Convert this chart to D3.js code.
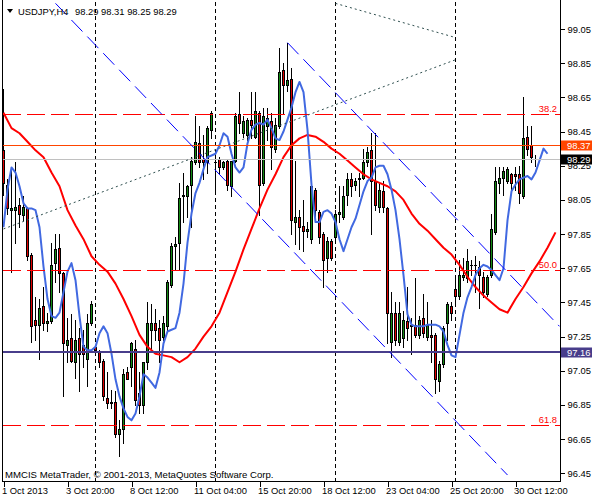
<!DOCTYPE html>
<html><head><meta charset="utf-8">
<script src="https://cdn.jsdelivr.net/npm/d3@7"></script>
<style>
html,body{margin:0;padding:0;background:#fff;}
svg{display:block;}
text{font-family:"Liberation Sans",Arial,sans-serif;}
</style>
</head><body>
<svg id="chart" width="600" height="500"></svg>
<script>
// ---------------- DATA ----------------
const symbolTitle = "USDJPY,H4";
const titleQuote = "98.29 98.31 98.25 98.29";
const copyright = "MMCIS MetaTrader, \u00A9 2001-2013, MetaQuotes Software Corp.";

const barOpen = [98.34,98.14,97.99,97.99,98.02,97.96,98.00,97.73,97.35,97.32,97.43,97.33,97.34,97.68,97.77,97.62,97.20,97.24,97.10,97.24,
97.20,97.12,97.33,97.19,97.16,97.11,96.89,96.86,96.87,96.68,96.71,97.04,97.07,97.18,96.92,96.85,97.10,97.29,97.33,97.30,
97.25,97.31,97.55,97.78,97.80,98.07,98.07,98.14,98.27,98.38,98.29,98.27,98.46,98.27,98.29,98.24,98.28,98.13,98.28,98.55,
98.44,98.43,98.52,98.42,98.56,98.15,98.48,98.51,98.35,98.48,98.81,98.72,98.76,97.92,97.95,97.90,97.87,97.82,98.11,97.98,
97.85,97.71,97.81,97.83,97.97,97.95,98.08,98.17,98.14,98.17,98.18,98.27,98.34,98.16,98.01,98.10,98.00,97.22,97.39,97.22,
97.24,97.34,97.32,97.32,97.26,97.36,97.25,97.26,97.26,96.99,97.09,97.33,97.43,97.53,97.49,97.60,97.59,97.67,97.67,97.66,
97.60,97.50,97.61,97.86,98.15,98.18,98.16,98.20,98.20,98.20,98.07,98.42,98.37,98.29];
const barHigh = [98.70,98.17,98.24,98.27,98.06,98.07,98.01,97.74,97.48,97.47,97.54,97.39,97.80,97.85,97.85,97.63,97.36,97.38,97.35,97.30,
97.29,97.38,97.46,97.20,97.17,97.12,97.04,96.94,96.93,96.76,97.06,97.07,97.22,97.23,97.04,97.10,97.45,97.44,97.41,97.35,
97.37,97.58,97.80,97.83,98.15,98.21,98.14,98.30,98.54,98.48,98.43,98.48,98.57,98.32,98.30,98.28,98.29,98.28,98.56,98.68,
98.54,98.53,98.68,98.68,98.57,98.59,98.59,98.56,98.53,98.94,98.85,98.97,98.82,98.28,97.99,98.05,97.92,98.13,98.12,97.99,
97.86,97.83,97.82,97.99,98.13,98.13,98.21,98.21,98.18,98.21,98.35,98.36,98.44,98.44,98.15,98.16,98.01,97.51,97.45,97.45,
97.40,97.54,97.36,97.59,97.37,97.50,97.45,97.35,97.27,97.11,97.31,97.45,97.45,97.60,97.70,97.71,97.76,97.70,97.72,97.69,
97.63,97.61,97.97,98.24,98.24,98.24,98.24,98.21,98.24,98.25,98.65,98.48,98.48,98.31];
const barLow = [98.08,97.97,97.63,97.80,97.89,97.93,97.70,97.22,97.23,97.12,97.29,97.28,97.33,97.57,97.51,96.90,97.10,97.10,97.01,96.93,
97.07,96.96,97.32,97.15,97.07,96.88,96.83,96.83,96.66,96.55,96.63,97.00,96.96,96.85,96.80,96.80,97.06,97.18,97.23,97.10,
97.23,97.29,97.54,97.64,97.64,97.92,97.95,97.89,98.26,98.24,98.17,98.21,98.41,98.11,98.21,98.23,98.11,98.07,98.27,98.44,
98.42,98.40,98.41,98.41,97.96,98.14,98.40,98.23,98.33,98.47,98.56,98.69,97.85,97.79,97.76,97.75,97.83,97.80,97.92,97.80,
97.54,97.63,97.70,97.80,97.92,97.94,98.02,98.07,98.11,98.07,98.17,98.25,97.85,97.99,97.98,97.98,97.21,97.13,97.20,97.20,
97.19,97.23,97.15,97.25,97.24,97.25,97.23,97.10,96.92,96.93,97.07,97.23,97.35,97.45,97.47,97.58,97.57,97.61,97.51,97.42,
97.48,97.49,97.60,97.85,98.09,98.08,98.15,98.11,98.11,98.03,98.06,98.31,98.27,98.25];
const barClose = [98.15,98.00,98.00,98.01,97.97,98.01,97.72,97.31,97.32,97.42,97.33,97.34,97.67,97.76,97.62,97.21,97.23,97.11,97.23,97.15,
97.15,97.33,97.44,97.17,97.10,96.90,96.86,96.87,96.68,96.71,97.03,97.00,97.21,96.88,96.85,97.10,97.33,97.33,97.29,97.23,
97.33,97.57,97.78,97.79,98.06,98.08,98.13,98.28,98.39,98.27,98.27,98.47,98.56,98.27,98.24,98.27,98.14,98.28,98.54,98.50,
98.51,98.52,98.49,98.57,98.14,98.54,98.53,98.36,98.49,98.80,98.72,98.75,97.93,97.95,97.89,97.87,97.88,98.13,97.99,97.83,
97.70,97.81,97.71,97.97,97.98,98.07,98.17,98.13,98.16,98.18,98.27,98.33,98.16,98.02,98.11,98.01,97.39,97.39,97.23,97.39,
97.35,97.30,97.31,97.26,97.35,97.27,97.32,97.25,97.00,97.09,97.30,97.44,97.39,97.49,97.61,97.61,97.69,97.67,97.67,97.61,
97.51,97.60,97.88,98.16,98.18,98.22,98.23,98.15,98.19,98.09,98.41,98.35,98.30,98.29];

// red moving average (shifted forward), read every 2 bars from bar 0 to bar 138
const maRedStep = 2;
const maRed = [98.56,98.47,98.44,98.39,98.34,98.30,98.21,98.13,97.99,97.90,97.82,97.72,97.67,97.63,97.56,97.47,97.37,97.26,97.19,97.15,
97.14,97.13,97.10,97.13,97.18,97.25,97.31,97.39,97.51,97.63,97.76,97.88,98.00,98.11,98.20,98.30,98.37,98.41,98.43,98.42,
98.39,98.35,98.32,98.28,98.24,98.20,98.17,98.15,98.13,98.10,98.05,97.97,97.91,97.87,97.82,97.77,97.73,97.67,97.60,97.54,
97.49,97.45,97.41,97.39,97.47,97.54,97.62,97.69,97.77,97.86];
// blue moving average, one value per bar from bar 0 to bar 136
const maBlue = [97.89,98.11,98.24,98.21,98.13,98.03,98.00,98.00,97.99,97.89,97.66,97.47,97.37,97.36,97.39,97.51,97.63,97.68,97.58,97.37,
97.19,97.17,97.17,97.19,97.27,97.31,97.27,97.15,97.00,96.90,96.83,96.78,96.76,96.80,96.90,97.03,97.01,96.98,96.95,97.04,
97.21,97.28,97.29,97.30,97.39,97.56,97.80,97.97,98.09,98.15,98.23,98.30,98.31,98.32,98.37,98.44,98.42,98.32,98.24,98.21,
98.24,98.38,98.46,98.49,98.50,98.49,98.52,98.47,98.41,98.40,98.45,98.52,98.59,98.68,98.74,98.68,98.46,98.14,97.92,97.92,
97.98,97.99,97.97,97.92,97.82,97.75,97.82,97.89,97.94,98.02,98.10,98.16,98.18,98.24,98.25,98.25,98.20,98.11,97.99,97.82,
97.61,97.38,97.32,97.31,97.31,97.31,97.32,97.32,97.32,97.31,97.28,97.20,97.14,97.13,97.26,97.39,97.48,97.54,97.61,97.65,
97.67,97.66,97.64,97.61,97.58,97.65,97.93,98.10,98.14,98.17,98.18,98.19,98.17,98.21,98.28,98.35,98.32];

// horizontal objects
const fibLevels = [98.55, 97.64, 96.73];
const fibLabels = ["38.2", "50.0", "61.8"];
const hLinePrices = [97.16, 98.37, 98.29];
const hLineLabels = ["97.16", "98.37", "98.29"];
const hLineColors = ["#483d8b", "#ff4500", "#c0c0c0"];
const hLineBoxColors = ["#483d8b", "#ff4500", "#000000"];
const hLineWidths = [2, 1, 1];

// channel (blue dashed) and trend lines (dotted), anchors as [bar index, price]
const channelUpper = [[71, 98.97], [139, 97.31]];
const channelLower = [[13, 99.20], [126, 96.44]];
const trendLine1 = [[0, 97.88], [113, 98.87]];
const trendLine2 = [[83, 99.20], [113, 99.00]];

// week separators (bar indices)
const separatorIdx = [23, 53, 83, 113];

// axes
const yTicks = [96.45, 96.65, 96.85, 97.05, 97.25, 97.45, 97.65, 97.85, 98.05, 98.25, 98.45, 98.65, 98.85, 99.05];
const xTickIdx = [0, 16, 32, 48, 64, 80, 96, 112, 128];
const xTickLabels = ["1 Oct 2013", "3 Oct 20:00", "8 Oct 12:00", "11 Oct 04:00", "15 Oct 20:00", "18 Oct 12:00", "23 Oct 04:00", "25 Oct 20:00", "30 Oct 12:00"];

// ---------------- DRAW ----------------
const FONT = 9.4;
const svg = d3.select("#chart");
const L = 2.5, R = 560.5, B = 481.5;

const x = d3.scaleLinear().domain([0, 133]).range([3.5, 535.5]);
const y = d3.scaleLinear().domain([96.405, 99.208]).range([481, 2]);

svg.append("rect").attr("width", 600).attr("height", 500).attr("fill", "#fff");

svg.append("defs").append("clipPath").attr("id", "plotclip")
  .append("rect").attr("x", 3).attr("y", 2).attr("width", R - 3).attr("height", B - 2);

const plot = svg.append("g").attr("clip-path", "url(#plotclip)");

// separators
plot.append("g").selectAll("line").data(separatorIdx).join("line")
  .attr("x1", d => x(d)).attr("x2", d => x(d)).attr("y1", 2).attr("y2", B)
  .attr("stroke", "#000").attr("stroke-width", 1).attr("stroke-dasharray", "4,3")
  .attr("shape-rendering", "crispEdges");

// candles
const bars = d3.range(barOpen.length).map(i => ({ i, o: barOpen[i], h: barHigh[i], l: barLow[i], c: barClose[i] }));
const cg = plot.append("g").attr("shape-rendering", "crispEdges");
const py = v => Math.round(y(v));
cg.selectAll("line.wick").data(bars).join("line").attr("class", "wick")
  .attr("x1", d => x(d.i)).attr("x2", d => x(d.i))
  .attr("y1", d => py(d.h)).attr("y2", d => py(d.l) + 1)
  .attr("stroke", "#000").attr("stroke-width", 1);
cg.selectAll("rect.body").data(bars.filter(d => py(d.o) !== py(d.c))).join("rect").attr("class", "body")
  .attr("x", d => x(d.i) - 1).attr("width", 2)
  .attr("y", d => Math.min(py(d.o), py(d.c)) + 0.5)
  .attr("height", d => Math.abs(py(d.o) - py(d.c)))
  .attr("fill", d => d.c > d.o ? "#138a13" : "#e00000")
  .attr("stroke", "#000").attr("stroke-width", 1);
cg.selectAll("line.doji").data(bars.filter(d => py(d.o) === py(d.c))).join("line").attr("class", "doji")
  .attr("x1", d => x(d.i) - 1.5).attr("x2", d => x(d.i) + 1.5)
  .attr("y1", d => py(d.o) + 0.5).attr("y2", d => py(d.o) + 0.5)
  .attr("stroke", "#000").attr("stroke-width", 1);

// moving averages
const redPts = maRed.map((v, k) => [k * maRedStep, v]);
const bluePts = maBlue.map((v, k) => [k, v]);
const lineGen = d3.line().x(d => x(d[0])).y(d => y(d[1]));
plot.append("path").datum(redPts).attr("d", lineGen)
  .attr("fill", "none").attr("stroke", "#ff0000").attr("stroke-width", 2).attr("stroke-linejoin", "round");
plot.append("path").datum(bluePts).attr("d", lineGen)
  .attr("fill", "none").attr("stroke", "#4169e1").attr("stroke-width", 2).attr("stroke-linejoin", "round");

// fibonacci levels
plot.append("g").selectAll("line").data(fibLevels).join("line")
  .attr("x1", 3).attr("x2", R).attr("y1", d => py(d) + 0.5).attr("y2", d => py(d) + 0.5)
  .attr("stroke", "#ff0000").attr("stroke-width", 1).attr("stroke-dasharray", "18,6")
  .attr("shape-rendering", "crispEdges");
plot.append("g").selectAll("text").data(fibLevels).join("text")
  .attr("x", 557).attr("y", d => py(d) - 2).attr("text-anchor", "end")
  .attr("font-size", FONT).attr("fill", "#ff0000").text((d, i) => fibLabels[i]);

// horizontal lines
plot.append("g").selectAll("line").data(hLinePrices).join("line")
  .attr("x1", 3).attr("x2", R)
  .attr("y1", (d, i) => py(d) + (hLineWidths[i] === 2 ? 0 : 0.5))
  .attr("y2", (d, i) => py(d) + (hLineWidths[i] === 2 ? 0 : 0.5))
  .attr("stroke", (d, i) => hLineColors[i]).attr("stroke-width", (d, i) => hLineWidths[i])
  .attr("shape-rendering", "crispEdges");

// trend lines (dotted)
[trendLine1, trendLine2].forEach(tl => {
  plot.append("path").datum(tl).attr("d", lineGen)
    .attr("fill", "none").attr("stroke", "#2f4f4f").attr("stroke-width", 1).attr("stroke-dasharray", "2,3");
});
// channel lines (dashed blue)
[channelUpper, channelLower].forEach(tl => {
  plot.append("path").datum(tl).attr("d", lineGen)
    .attr("fill", "none").attr("stroke", "#0000ff").attr("stroke-width", 1).attr("stroke-dasharray", "16,7");
});

// frame
svg.append("line").attr("x1", L).attr("x2", L).attr("y1", 0).attr("y2", B).attr("stroke", "#000").attr("shape-rendering", "crispEdges");

// right axis
const yAxis = d3.axisRight(y).tickValues(yTicks).tickFormat(d3.format(".2f")).tickSize(4).tickPadding(3);
const ya = svg.append("g").attr("transform", `translate(${R},0)`).call(yAxis);
ya.select(".domain").attr("d", `M0,0V${B}`).attr("stroke", "#000").attr("shape-rendering", "crispEdges");
ya.selectAll(".tick line").attr("stroke", "#000").attr("shape-rendering", "crispEdges");
ya.selectAll(".tick text").attr("font-size", FONT).attr("font-family", "Liberation Sans, Arial, sans-serif").attr("fill", "#000");

// bottom axis
const xAxis = d3.axisBottom(x).tickValues(xTickIdx).tickFormat((d, i) => xTickLabels[i]).tickSize(5).tickPadding(1);
const xa = svg.append("g").attr("transform", `translate(0,${B})`).call(xAxis);
xa.select(".domain").attr("d", `M${L},0H${R}`).attr("stroke", "#000").attr("shape-rendering", "crispEdges");
xa.selectAll(".tick line").attr("stroke", "#000").attr("shape-rendering", "crispEdges");
xa.selectAll(".tick text").attr("font-size", FONT).attr("font-family", "Liberation Sans, Arial, sans-serif")
  .attr("fill", "#000").attr("text-anchor", "start").attr("dx", -2);

// price label boxes
const boxes = svg.append("g");
hLinePrices.forEach((p, i) => {
  const cy = py(p) + 0.5;
  boxes.append("rect").attr("x", 561).attr("y", cy - 5).attr("width", 31).attr("height", 10)
    .attr("fill", hLineBoxColors[i]);
  boxes.append("text").attr("x", 567).attr("y", cy).attr("dy", "0.34em")
    .attr("font-size", FONT).attr("fill", "#fff").text(hLineLabels[i]);
});

// title
svg.append("path").attr("d", "M7,9 L13,9 L10,13 Z").attr("fill", "#000");
svg.append("text").attr("x", 18).attr("y", 14.5).attr("font-size", FONT).attr("fill", "#000").text(symbolTitle);
svg.append("text").attr("x", 75).attr("y", 14.5).attr("font-size", FONT).attr("fill", "#000").text(titleQuote);

// copyright
svg.append("text").attr("x", 5).attr("y", 477.5).attr("font-size", 9.6).attr("fill", "#000").text(copyright);
</script>
</body></html>
